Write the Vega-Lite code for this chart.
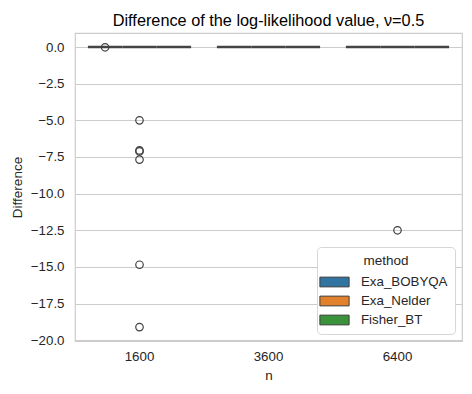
{
  "$schema": "https://vega.github.io/schema/vega-lite/v6.json",
  "width": 387,
  "height": 308,
  "autosize": {"type": "none"},
  "padding": {"left": 75, "top": 33, "right": 10, "bottom": 53},
  "background": "white",
  "title": {
    "text": "Difference of the log-likelihood value, ν=0.5",
    "fontSize": 16.3,
    "fontWeight": "normal",
    "color": "#000000",
    "offset": 4,
    "anchor": "middle"
  },
  "datasets": {
    "boxes": [
      {"n": 1600, "method": "Exa_BOBYQA", "q1": 0, "q3": 0},
      {"n": 1600, "method": "Exa_Nelder", "q1": 0, "q3": 0},
      {"n": 1600, "method": "Fisher_BT", "q1": 0, "q3": 0},
      {"n": 3600, "method": "Exa_BOBYQA", "q1": 0, "q3": 0},
      {"n": 3600, "method": "Exa_Nelder", "q1": 0, "q3": 0},
      {"n": 3600, "method": "Fisher_BT", "q1": 0, "q3": 0},
      {"n": 6400, "method": "Exa_BOBYQA", "q1": 0, "q3": 0},
      {"n": 6400, "method": "Exa_Nelder", "q1": 0, "q3": 0},
      {"n": 6400, "method": "Fisher_BT", "q1": 0, "q3": 0}
    ],
    "outliers": [
      {"n": 1600, "method": "Exa_BOBYQA", "value": -0.02},
      {"n": 1600, "method": "Exa_Nelder", "value": -5.0},
      {"n": 1600, "method": "Exa_Nelder", "value": -7.05},
      {"n": 1600, "method": "Exa_Nelder", "value": -7.12},
      {"n": 1600, "method": "Exa_Nelder", "value": -7.68},
      {"n": 1600, "method": "Exa_Nelder", "value": -14.85},
      {"n": 1600, "method": "Exa_Nelder", "value": -19.1},
      {"n": 6400, "method": "Exa_Nelder", "value": -12.5}
    ]
  },
  "layer": [
    {
      "data": {"name": "boxes"},
      "mark": {"type": "bar", "stroke": "#444444", "strokeWidth": 2.4},
      "encoding": {
        "x": {
          "field": "n", "type": "nominal", "title": "n",
          "scale": {"paddingInner": 0.2, "paddingOuter": 0.1},
          "axis": {"labelAngle": 0, "grid": false}
        },
        "xOffset": {
          "field": "method", "type": "nominal",
          "scale": {"paddingInner": 0, "paddingOuter": 0}
        },
        "y": {
          "field": "q1", "type": "quantitative", "title": "Difference",
          "scale": {"domain": [-20.05, 0.955], "nice": false, "zero": false},
          "axis": {"values": [0, -2.5, -5, -7.5, -10, -12.5, -15, -17.5, -20], "format": ".1f", "grid": true, "labelOverlap": false}
        },
        "y2": {"field": "q3"},
        "color": {
          "field": "method", "type": "nominal", "title": "method",
          "scale": {"domain": ["Exa_BOBYQA", "Exa_Nelder", "Fisher_BT"], "range": ["#3274a1", "#e1812c", "#3a923a"]},
          "legend": {
            "orient": "bottom-right",
            "offset": 7,
            "fillColor": "white",
            "strokeColor": "#d6d6d6",
            "cornerRadius": 4,
            "padding": 7,
            "titleAnchor": "middle",
            "titleAlign": "center",
            "titleFontSize": 13.5,
            "titleFontWeight": "normal",
            "titleColor": "#262626",
            "titlePadding": 4,
            "labelFontSize": 13.3,
            "labelColor": "#262626",
            "labelOffset": 16,
            "symbolType": "M-1.5,-0.5H1.5V0.5H-1.5Z",
            "symbolSize": 380,
            "symbolStrokeColor": "#3f3f3f",
            "symbolStrokeWidth": 1,
            "symbolOpacity": 1,
            "rowPadding": 1
          }
        }
      }
    },
    {
      "data": {"name": "outliers"},
      "mark": {"type": "point", "shape": "circle", "filled": false, "stroke": "#3f3f3f", "strokeWidth": 1.2, "size": 56, "opacity": 1},
      "encoding": {
        "x": {
          "field": "n", "type": "nominal", "title": "n",
          "scale": {"paddingInner": 0.2, "paddingOuter": 0.1},
          "axis": {"labelAngle": 0, "grid": false}
        },
        "xOffset": {
          "field": "method", "type": "nominal",
          "scale": {"paddingInner": 0, "paddingOuter": 0}
        },
        "y": {
          "field": "value", "type": "quantitative", "title": "Difference",
          "scale": {"domain": [-20.05, 0.955], "nice": false, "zero": false},
          "axis": {"values": [0, -2.5, -5, -7.5, -10, -12.5, -15, -17.5, -20], "format": ".1f", "grid": true, "labelOverlap": false}
        }
      }
    }
  ],
  "config": {
    "font": "Liberation Sans",
    "view": {"stroke": "#cccccc", "strokeWidth": 1.2},
    "axis": {
      "domain": false,
      "ticks": false,
      "gridColor": "#cccccc",
      "gridWidth": 1,
      "labelFontSize": 13.3,
      "labelColor": "#262626",
      "titleFontSize": 13.5,
      "titleFontWeight": "normal",
      "titleColor": "#262626"
    },
    "axisX": {"labelPadding": 8, "titlePadding": 6},
    "axisY": {"labelPadding": 11, "titlePadding": 6}
  }
}
